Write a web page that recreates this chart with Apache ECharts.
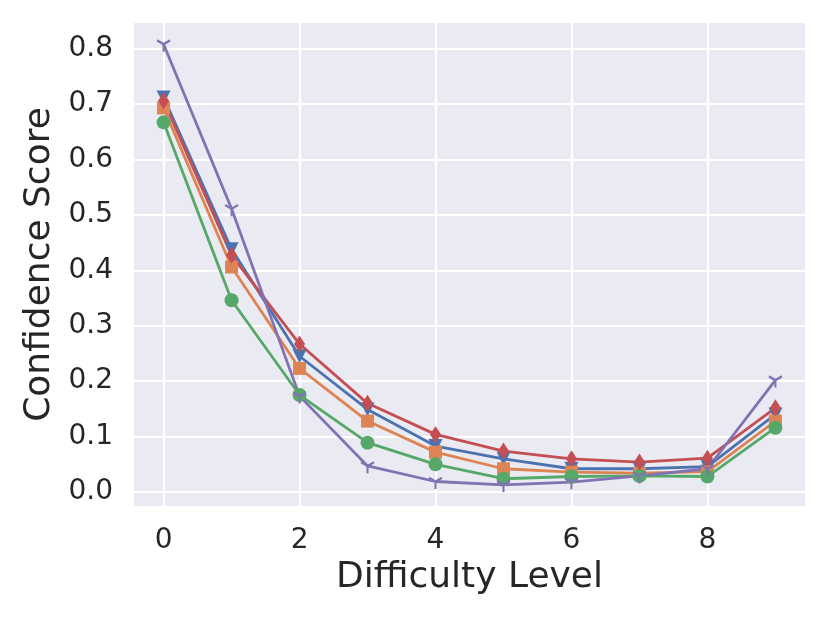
<!DOCTYPE html>
<html>
<head>
<meta charset="utf-8">
<script src="https://cdn.jsdelivr.net/npm/echarts@6/dist/echarts.min.js"></script>
<style>
  html, body { margin: 0; padding: 0; background: #ffffff; }
  #chart { width: 830px; height: 623px; }
</style>
</head>
<body>
<div id="chart"></div>
<script>
var levels = [0, 1, 2, 3, 4, 5, 6, 7, 8, 9];
var blueVals = [0.712, 0.438, 0.245, 0.149, 0.083, 0.060, 0.042, 0.042, 0.046, 0.140];
var orangeVals = [0.693, 0.406, 0.223, 0.128, 0.072, 0.042, 0.036, 0.034, 0.037, 0.128];
var greenVals = [0.667, 0.346, 0.175, 0.089, 0.050, 0.024, 0.028, 0.029, 0.028, 0.116];
var redVals = [0.706, 0.427, 0.267, 0.160, 0.104, 0.074, 0.060, 0.054, 0.061, 0.152];
var purpleVals = [0.808, 0.511, 0.173, 0.047, 0.019, 0.013, 0.018, 0.029, 0.042, 0.202];

var textColor = '#262626';
var font = 'DejaVu Sans';

function pairs(vals) {
    return levels.map(function (x, i) { return [x, vals[i]]; });
}

function makeSeries(vals, color, symbol, size, extra) {
    var s = {
        type: 'line',
        data: pairs(vals),
        symbol: symbol,
        symbolSize: size,
        showAllSymbol: true,
        lineStyle: { color: color, width: 2.8 },
        itemStyle: { color: color },
        emphasis: { disabled: true },
        animation: false
    };
    for (var k in extra) s[k] = extra[k];
    return s;
}

var chart = echarts.init(document.getElementById('chart'));

var option = {
    backgroundColor: '#ffffff',
    animation: false,
    grid: {
        left: 133,
        right: 24,
        top: 22,
        bottom: 116,
        show: true,
        backgroundColor: '#EAEAF2',
        borderWidth: 0
    },
    xAxis: {
        type: 'value',
        min: -0.45,
        max: 9.45,
        splitNumber: 5,
        name: 'Difficulty Level',
        nameLocation: 'middle',
        nameGap: 52,
        nameTextStyle: { color: textColor, fontSize: 36, fontFamily: font },
        axisLine: { show: false },
        axisTick: { show: false },
        axisLabel: {
            color: textColor, fontSize: 28, fontFamily: font, margin: 20,
            showMinLabel: false, showMaxLabel: false
        },
        splitLine: { show: true, lineStyle: { color: '#ffffff', width: 2 } }
    },
    yAxis: {
        type: 'value',
        min: -0.027,
        max: 0.848,
        splitNumber: 9,
        name: 'Confidence Score',
        nameLocation: 'middle',
        nameGap: 65,
        nameTextStyle: { color: textColor, fontSize: 36, fontFamily: font },
        axisLine: { show: false },
        axisTick: { show: false },
        axisLabel: {
            color: textColor, fontSize: 28, fontFamily: font, margin: 20,
            showMinLabel: false, showMaxLabel: false,
            formatter: function (v) { return v.toFixed(1); }
        },
        splitLine: { show: true, lineStyle: { color: '#ffffff', width: 2 } }
    },
    series: [
        makeSeries(blueVals, '#4C72B0', 'triangle', 14, { symbolRotate: 180 }),
        makeSeries(orangeVals, '#DD8452', 'rect', 13, {}),
        makeSeries(greenVals, '#55A868', 'circle', 14, {}),
        makeSeries(redVals, '#C44E52', 'diamond', [11, 17], {}),
        makeSeries(purpleVals, '#8172B3',
            'path://M0,-10 M0,0 L0,10 M0,0 L-8.66,-5 M0,0 L8.66,-5', [13, 15],
            { itemStyle: { color: 'none', borderColor: '#8172B3', borderWidth: 2.2 } })
    ]
};

chart.setOption(option);
</script>
</body>
</html>
